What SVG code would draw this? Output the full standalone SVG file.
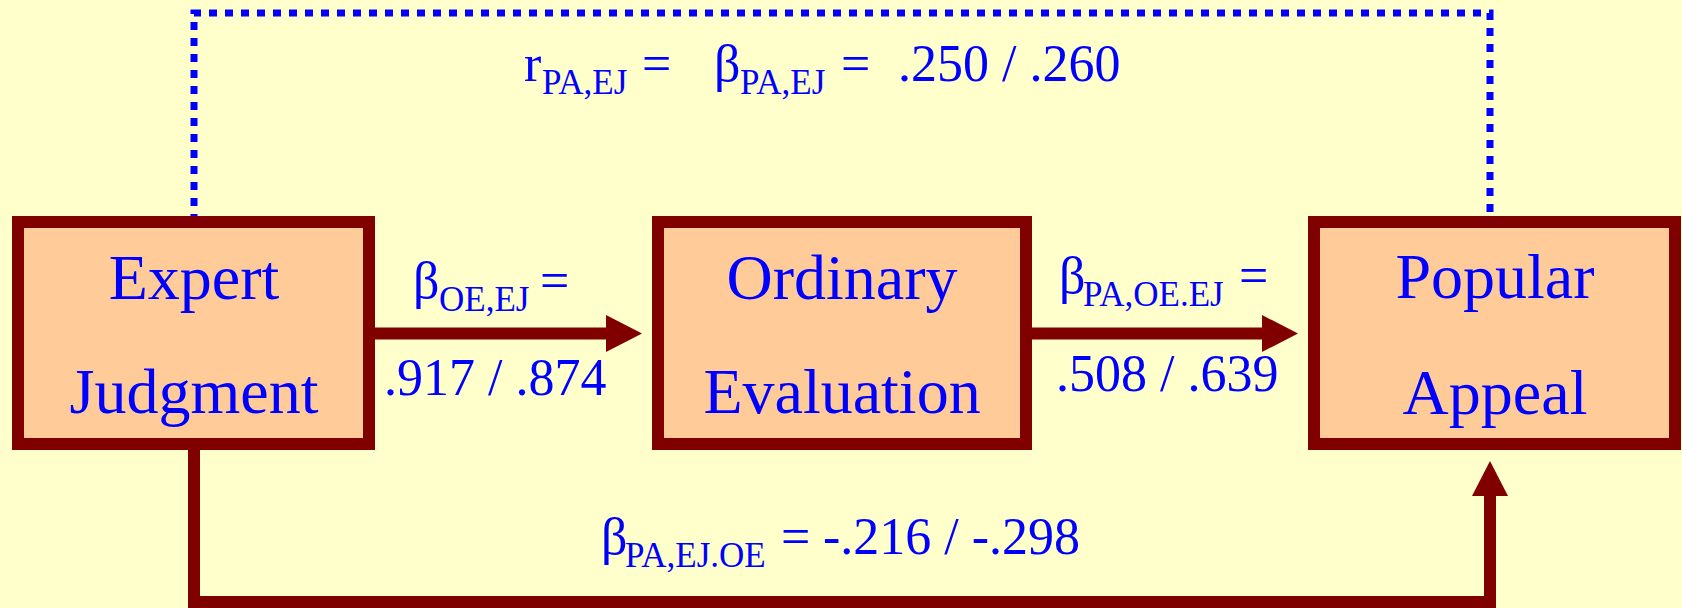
<svg xmlns="http://www.w3.org/2000/svg" width="1682" height="608" viewBox="0 0 1682 608">
<style>
.bg{fill:#FFFFCC}
.box{fill:#FFCC99;stroke:#800000;stroke-width:12}
.node{font-family:"Liberation Serif","Times New Roman",serif;font-size:64px;fill:#0000FF;text-anchor:middle}
.lbl{font-family:"Liberation Serif","Times New Roman",serif;font-size:52px;fill:#0000FF}
.sub{font-size:35px}
.solid{fill:none;stroke:#800000;stroke-width:12;stroke-linejoin:miter;stroke-linecap:butt}
.head{fill:#800000}
.dot{fill:none;stroke:#0000FF;stroke-width:7;stroke-dasharray:8 8}
</style>
<rect class="bg" x="0" y="0" width="1682" height="608"/>
<g id="connectors">
<path class="dot" d="M194,222 V13 H1490 V222"/>
<path class="solid" d="M375,333.5 H607"/>
<polygon class="head" points="606,315 642,333.5 606,352"/>
<path class="solid" d="M1032,333.5 H1263"/>
<polygon class="head" points="1262,315 1298,333.5 1262,352"/>
<path class="solid" d="M194,450 V602 H1490 V495"/>
<polygon class="head" points="1472,496 1508,496 1490,461"/>
</g>
<g id="node-expert">
<rect class="box" x="18" y="222" width="351" height="222"/>
<text class="node" x="194" y="299">Expert</text>
<text class="node" x="194" y="413">Judgment</text>
</g>
<g id="node-ordinary">
<rect class="box" x="658" y="222" width="368" height="222"/>
<text class="node" x="842" y="299">Ordinary</text>
<text class="node" x="842" y="413">Evaluation</text>
</g>
<g id="node-popular">
<rect class="box" x="1314" y="222" width="361" height="222"/>
<text class="node" x="1495" y="298">Popular</text>
<text class="node" x="1495" y="414">Appeal</text>
</g>
<g id="labels">
<text class="lbl"><tspan x="524" y="81">r</tspan><tspan class="sub" x="542" y="94">PA,EJ</tspan><tspan x="642" y="81">=</tspan><tspan x="714" y="81">β</tspan><tspan class="sub" x="740" y="94">PA,EJ</tspan><tspan x="841" y="81">=</tspan><tspan x="898" y="81">.250 / .260</tspan></text>
<text class="lbl"><tspan x="413" y="298">β</tspan><tspan class="sub" x="439" y="311">OE,EJ</tspan><tspan x="540" y="298">=</tspan></text>
<text class="lbl" x="384" y="395">.917 / .874</text>
<text class="lbl"><tspan x="1059" y="293">β</tspan><tspan class="sub" x="1083" y="306">PA,OE.EJ</tspan><tspan x="1239" y="293">=</tspan></text>
<text class="lbl" x="1056" y="391">.508 / .639</text>
<text class="lbl"><tspan x="601" y="554">β</tspan><tspan class="sub" x="625" y="567">PA,EJ.OE</tspan><tspan x="781" y="554">=</tspan><tspan x="823" y="554">-.216 / -.298</tspan></text>
</g>
</svg>
